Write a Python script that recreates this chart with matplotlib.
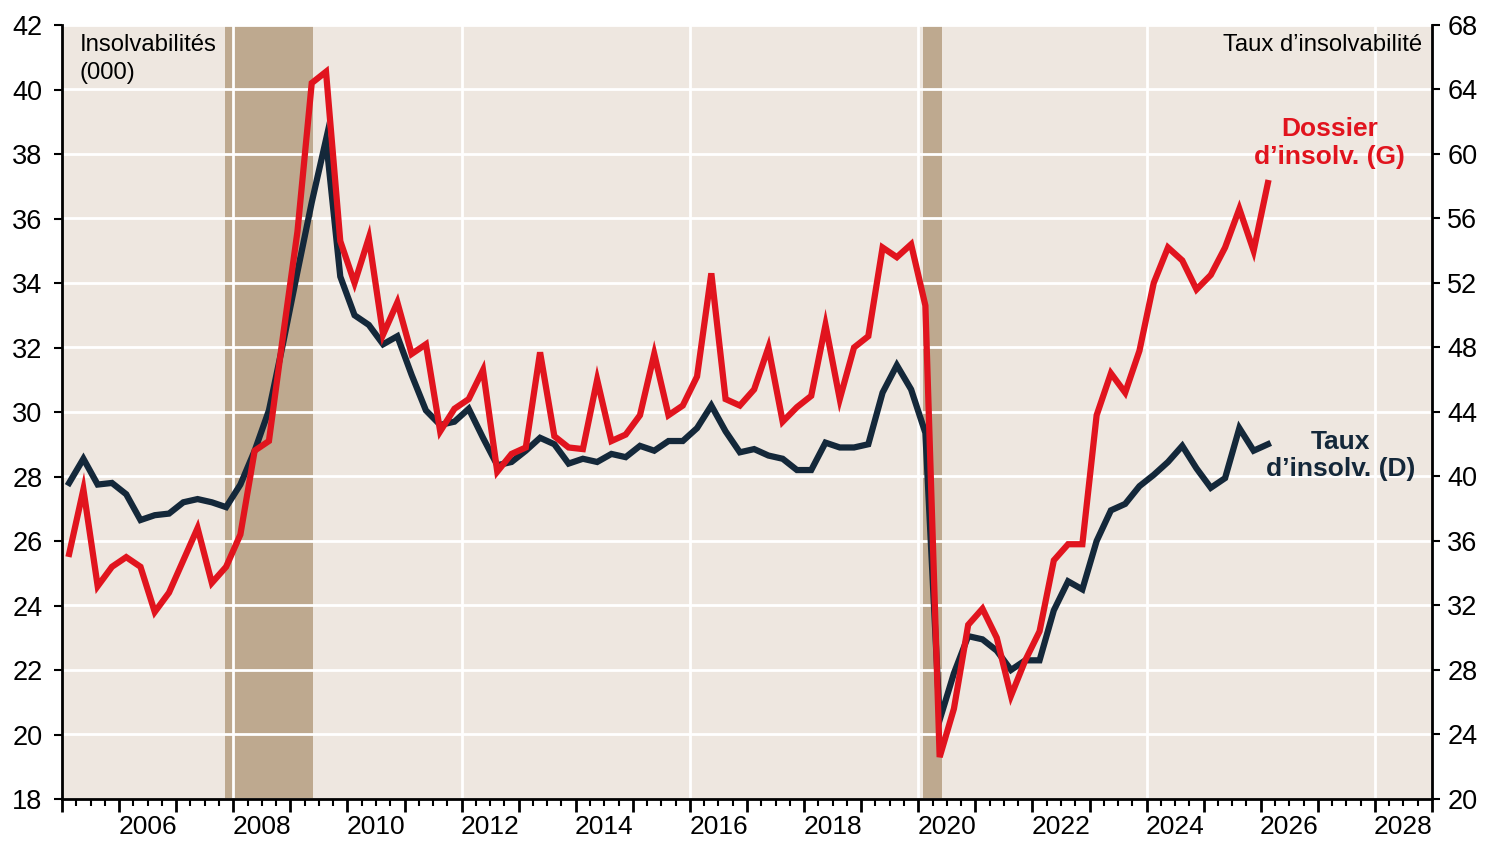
import matplotlib.pyplot as plt
from matplotlib.ticker import FixedLocator, FuncFormatter
import numpy as np

plt.rcParams['font.family'] = ['Liberation Sans', 'DejaVu Sans']

BG = '#EEE7E0'
SHADE = '#BEA98F'
RED = '#E1141E'
NAVY = '#14283A'

# quarterly data, Q1 2005 .. Q1 2026, plotted mid-quarter
quarters = 2005.125 + 0.25 * np.arange(85)

# Dossiers d'insolvabilité (000) - left axis
dossiers = [25.6, 27.6, 24.6, 25.2, 25.5, 25.2, 23.8, 24.4, 25.4, 26.4,
            24.7, 25.2, 26.2, 28.8, 29.1, 32.4, 35.6, 40.2, 40.55, 35.3,
            34.0, 35.4, 32.4, 33.4, 31.8, 32.1, 29.4, 30.1, 30.4, 31.3,
            28.15, 28.7, 28.9, 31.85, 29.25, 28.9, 28.85, 31.0, 29.1, 29.3,
            29.9, 31.8, 29.9, 30.2, 31.1, 34.3, 30.4, 30.2, 30.7, 32.0,
            29.7, 30.15, 30.5, 32.7, 30.4, 32.0, 32.35, 35.1, 34.8, 35.2,
            33.3, 19.3, 20.8, 23.4, 23.9, 23.0, 21.2, 22.3, 23.2, 25.4,
            25.9, 25.9, 29.9, 31.2, 30.6, 31.9, 34.0, 35.1, 34.7, 33.8,
            34.25, 35.1, 36.3, 35.0, 37.1]

# Taux d'insolvabilité - right axis
taux = [39.6, 41.1, 39.5, 39.6, 38.9, 37.3, 37.6, 37.7, 38.4, 38.6,
        38.4, 38.1, 39.5, 41.6, 44.1, 48.3, 52.7, 57.0, 60.9, 52.4,
        50.0, 49.4, 48.2, 48.7, 46.3, 44.1, 43.2, 43.4, 44.2, 42.4,
        40.7, 40.9, 41.6, 42.4, 42.0, 40.8, 41.1, 40.9, 41.4, 41.2,
        41.9, 41.6, 42.2, 42.2, 43.0, 44.4, 42.8, 41.5, 41.7, 41.3,
        41.1, 40.4, 40.4, 42.1, 41.8, 41.8, 42.0, 45.2, 46.9, 45.4,
        42.7, 24.9, 27.8, 30.1, 29.9, 29.2, 28.0, 28.6, 28.6, 31.7,
        33.5, 33.0, 36.0, 37.9, 38.3, 39.4, 40.1, 40.9, 41.9, 40.5,
        39.3, 39.9, 43.0, 41.6, 42.0]

recessions = [(2007.85, 2009.39), (2020.09, 2020.41)]
grid_years = [2008, 2012, 2016, 2020, 2024, 2028]

fig = plt.figure(figsize=(14.97, 8.43), dpi=100)
ax = fig.add_axes([62 / 1497, 1 - 799 / 843, 1370 / 1497, 774 / 843])
ax2 = ax.twinx()

# right axis sits underneath and carries the background, shading and grid
ax.set_zorder(2)
ax2.set_zorder(1)
ax.patch.set_visible(False)
ax2.patch.set_visible(True)
ax2.patch.set_facecolor(BG)

for start, end in recessions:
    ax2.axvspan(start, end, color=SHADE, lw=0, zorder=1)
for yr in grid_years:
    ax2.axvline(yr, color='white', lw=2, zorder=1.5)
ax2.set_axisbelow('line')
ax2.yaxis.grid(True, color='white', lw=2)

ax2.plot(quarters, taux, color=NAVY, lw=4.5, solid_joinstyle='miter', zorder=2)
ax.plot(quarters, dossiers, color=RED, lw=4.5, solid_joinstyle='miter', zorder=2)

ax.set_xlim(2005, 2029)
ax.set_ylim(18, 42)
ax2.set_ylim(20, 68)

ax.set_yticks(np.arange(18, 43, 2))
ax2.set_yticks(np.arange(20, 69, 4))

# year ticks, quarter minor ticks, labels centred mid-year every other year
ax.xaxis.set_major_locator(FixedLocator(np.arange(2005, 2030)))
ax.xaxis.set_major_formatter(FuncFormatter(lambda v, p: ''))
minor = [y + q for y in range(2005, 2029) for q in (0.25, 0.5, 0.75)]
ax.xaxis.set_minor_locator(FixedLocator(minor))


def year_label(v, pos):
    if abs(v - round(v - 0.5) - 0.5) < 1e-6 and int(round(v - 0.5)) % 2 == 0:
        return str(int(round(v - 0.5)))
    return ''


ax.xaxis.set_minor_formatter(FuncFormatter(year_label))

ax.tick_params(axis='x', which='major', length=9, width=2, direction='out')
ax.tick_params(axis='x', which='minor', length=5, width=1.5, direction='out',
               labelsize=19, pad=6.5)
ax.tick_params(axis='y', length=6, width=1.5, labelsize=19.5, pad=8)
ax2.tick_params(axis='y', length=6, width=1.5, labelsize=19.5, pad=5)

for s in ['top', 'right']:
    ax.spines[s].set_visible(False)
for s in ['left', 'bottom']:
    ax.spines[s].set_linewidth(2)
for s in ['top', 'left', 'bottom']:
    ax2.spines[s].set_visible(False)
ax2.spines['right'].set_linewidth(2)

ax.text(0.013, 0.988, 'Insolvabilités\n(000)', transform=ax.transAxes,
        ha='left', va='top', fontsize=17.2, linespacing=1.35)
ax.text(0.9927, 0.988, 'Taux d’insolvabilité', transform=ax.transAxes,
        ha='right', va='top', fontsize=17.2)
ax.text(2027.2, 38.35, 'Dossier\nd’insolv. (G)', color=RED, fontsize=19,
        fontweight='bold', ha='center', va='center', linespacing=1.2)
ax.text(2027.4, 28.65, 'Taux\nd’insolv. (D)', color=NAVY, fontsize=19,
        fontweight='bold', ha='center', va='center', linespacing=1.2)

fig.savefig('out.png', dpi=100, facecolor='white')
